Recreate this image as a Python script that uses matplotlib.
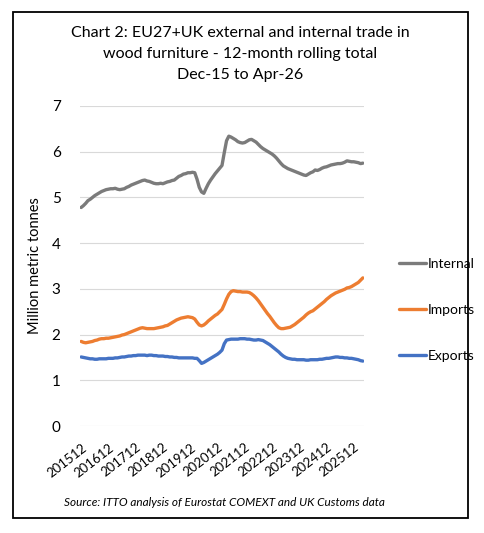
import matplotlib
matplotlib.use("Agg")
import matplotlib.pyplot as plt
import matplotlib.transforms as mtransforms
from matplotlib.patches import Rectangle

# ---- data: 12-month rolling totals, million metric tonnes, Dec-15 .. Apr-26 ----
internal = [4.78,
    4.82, 4.87, 4.93, 4.96, 5.00, 5.04, 5.07, 5.10, 5.13, 5.15, 5.17, 5.18,
    5.19, 5.19, 5.20, 5.18, 5.17, 5.18, 5.19, 5.22, 5.24, 5.27, 5.29, 5.31,
    5.33, 5.35, 5.37, 5.38, 5.36, 5.35, 5.33, 5.31, 5.30, 5.30, 5.31, 5.30,
    5.32, 5.34, 5.35, 5.37, 5.38, 5.42, 5.46, 5.48, 5.51, 5.52, 5.54, 5.54,
    5.55, 5.54, 5.40, 5.22, 5.12, 5.09, 5.20, 5.30, 5.38, 5.45, 5.52, 5.58,
    5.64, 5.70, 5.98, 6.24, 6.34, 6.32, 6.29, 6.26, 6.22, 6.20, 6.19, 6.20,
    6.23, 6.26, 6.27, 6.24, 6.21, 6.16, 6.11, 6.07, 6.04, 6.01, 5.98, 5.95,
    5.91, 5.86, 5.80, 5.74, 5.69, 5.66, 5.63, 5.61, 5.59, 5.57, 5.55, 5.53,
    5.51, 5.49, 5.48, 5.51, 5.54, 5.56, 5.60, 5.59, 5.61, 5.64, 5.66, 5.67,
    5.69, 5.71, 5.72, 5.73, 5.74, 5.74, 5.75, 5.77, 5.80, 5.79, 5.78, 5.78,
    5.77, 5.76, 5.74, 5.75]

imports = [1.85,
    1.83, 1.82, 1.83, 1.84, 1.85, 1.87, 1.88, 1.90, 1.91, 1.91, 1.92, 1.92,
    1.93, 1.94, 1.95, 1.96, 1.97, 1.99, 2.00, 2.02, 2.04, 2.06, 2.08, 2.10,
    2.12, 2.14, 2.15, 2.14, 2.13, 2.13, 2.13, 2.13, 2.14, 2.15, 2.16, 2.17,
    2.19, 2.20, 2.23, 2.26, 2.29, 2.32, 2.34, 2.36, 2.37, 2.38, 2.39, 2.38,
    2.37, 2.34, 2.27, 2.21, 2.19, 2.21, 2.25, 2.30, 2.34, 2.38, 2.42, 2.45,
    2.50, 2.55, 2.66, 2.78, 2.88, 2.94, 2.96, 2.95, 2.94, 2.94, 2.93, 2.93,
    2.93, 2.92, 2.89, 2.85, 2.80, 2.74, 2.67, 2.60, 2.53, 2.46, 2.40, 2.33,
    2.26, 2.20, 2.15, 2.13, 2.13, 2.14, 2.15, 2.16, 2.19, 2.22, 2.26, 2.30,
    2.34, 2.38, 2.43, 2.47, 2.50, 2.52, 2.56, 2.60, 2.64, 2.68, 2.72, 2.77,
    2.81, 2.85, 2.88, 2.91, 2.93, 2.95, 2.97, 2.99, 3.02, 3.03, 3.05, 3.08,
    3.11, 3.14, 3.19, 3.24]

exports = [1.51,
    1.50, 1.49, 1.48, 1.47, 1.47, 1.46, 1.46, 1.47, 1.47, 1.47, 1.47, 1.48,
    1.48, 1.48, 1.49, 1.49, 1.50, 1.51, 1.51, 1.52, 1.53, 1.53, 1.54, 1.54,
    1.55, 1.55, 1.55, 1.55, 1.54, 1.55, 1.55, 1.54, 1.54, 1.53, 1.53, 1.53,
    1.52, 1.52, 1.51, 1.51, 1.50, 1.50, 1.49, 1.49, 1.49, 1.49, 1.49, 1.49,
    1.49, 1.48, 1.48, 1.43, 1.37, 1.39, 1.42, 1.45, 1.48, 1.51, 1.54, 1.57,
    1.61, 1.66, 1.80, 1.88, 1.89, 1.90, 1.90, 1.90, 1.90, 1.91, 1.91, 1.91,
    1.90, 1.90, 1.89, 1.88, 1.88, 1.89, 1.88, 1.87, 1.84, 1.81, 1.78, 1.74,
    1.70, 1.66, 1.62, 1.57, 1.53, 1.50, 1.48, 1.47, 1.46, 1.46, 1.45, 1.45,
    1.45, 1.45, 1.44, 1.44, 1.45, 1.45, 1.45, 1.45, 1.46, 1.46, 1.47, 1.48,
    1.48, 1.49, 1.50, 1.51, 1.51, 1.50, 1.50, 1.49, 1.49, 1.48, 1.48, 1.47,
    1.46, 1.45, 1.43, 1.42]

tick_labels = ["201512", "201612", "201712", "201812", "201912", "202012",
               "202112", "202212", "202312", "202412", "202512"]
series_names = ["Internal", "Imports", "Exports"]
colors = ["#7b7b7b", "#ED7D31", "#4472C4"]

n = len(internal)
x = list(range(n))

plt.rcParams['font.family'] = ['Lato', 'DejaVu Sans']

fig = plt.figure(figsize=(4.84, 5.33), dpi=100)
W, H = 484, 533

# outer frame
fig.patches.append(Rectangle((13 / W, 1 - 518 / H), 455 / W, 506 / H,
                             transform=fig.transFigure, fill=False,
                             edgecolor="black", linewidth=1.3))

ax = fig.add_axes([80 / W, 1 - 426 / H, 284 / W, 320 / H])
handles = []
for vals, name, c in zip([internal, imports, exports], series_names, colors):
    h, = ax.plot(x, vals, color=c, linewidth=2.4, solid_capstyle="round",
                 label=name)
    handles.append(h)

ax.set_xlim(-0.5, n - 0.5)
ax.set_ylim(0, 7)
ax.set_yticks(range(0, 8))
ax.set_yticklabels([str(v) for v in range(0, 8)], fontsize=11)
ax.set_xticks(list(range(0, n, 12)))
ax.set_xticklabels(tick_labels, rotation=38, ha="right", va="top",
                   fontsize=9.5, rotation_mode="anchor")
shift = mtransforms.ScaledTranslation(4 / 100, 0, fig.dpi_scale_trans)
for lbl in ax.get_xticklabels():
    lbl.set_transform(lbl.get_transform() + shift)
ax.tick_params(length=0)
ax.tick_params(axis="y", pad=14)
ax.tick_params(axis="x", pad=11)
ax.grid(axis="y", color="#d9d9d9", linewidth=0.8)
ax.set_axisbelow(True)
for s in ax.spines.values():
    s.set_visible(False)
ax.set_ylabel("Million metric tonnes", fontsize=10.5, labelpad=7)

fig.legend(handles, series_names, loc="upper left",
           bbox_to_anchor=(386 / W, 1 - 245 / H), frameon=False,
           fontsize=10, handlelength=1.95, labelspacing=2.45,
           handletextpad=0.15)

cx = 0.5 * (13 + 468) / W
fig.text(cx, 1 - 33 / H, "Chart 2: EU27+UK external and internal trade in",
         ha="center", va="center", fontsize=11.5)
fig.text(cx, 1 - 54 / H, "wood furniture - 12-month rolling total",
         ha="center", va="center", fontsize=11.5)
fig.text(cx, 1 - 75 / H, "Dec-15 to Apr-26",
         ha="center", va="center", fontsize=11.5)
fig.text(224 / W, 1 - 502 / H,
         "Source: ITTO analysis of Eurostat COMEXT and UK Customs data",
         ha="center", va="center", fontsize=8.5, style="italic")

fig.savefig("out.png", dpi=100)
